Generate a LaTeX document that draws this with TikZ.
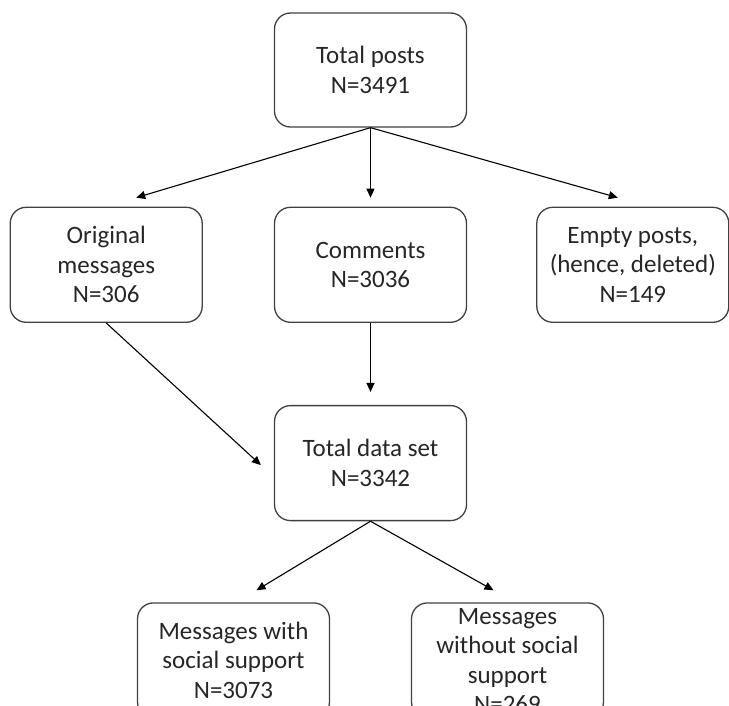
\documentclass[tikz,border=0pt]{standalone}
\usepackage{fontspec}
\setmainfont{Carlito}
\usepackage{xcolor}
\usepackage{tikz}
\usetikzlibrary{arrows.meta, positioning}
\definecolor{boxgrey}{RGB}{64, 64, 64}
\definecolor{textgrey}{RGB}{38, 38, 38}

\begin{document}
\begin{tikzpicture}[
    x=1pt, y=-1pt,
    stage/.style={draw=boxgrey, line width=1.3pt, rounded corners=16pt,
                  minimum width=192pt, minimum height=115pt, align=center,
                  text=textgrey, font=\fontsize{25}{29.5}\selectfont},
    flow/.style={-{Triangle[length=9pt, width=8pt]}, line width=1.1pt, black}
]
    \useasboundingbox (0,0) rectangle (729,706);

    \node[stage, minimum height=114pt] (total) at (370.5,70) {Total posts\\N=3491};
    \node[stage, below=79pt of total] (comments) {Comments\\N=3036};
    \node[stage, left=71pt of comments] (original) {Original\\messages\\N=306};
    \node[stage, right=69pt of comments] (empty) {Empty posts,\\(hence, deleted)\\N=149};
    \node[stage, below=82pt of comments] (dataset) {Total data set\\N=3342};
    \node[stage, below=81pt of dataset, xshift=-137pt] (withsup) {Messages with\\social support\\N=3073};
    \node[stage, inner ysep=0pt, below=81pt of dataset, xshift=137pt] (nosup) {Messages\\without social\\support\\N=269};

    % first split
    \draw[flow] (total.south) -- ([xshift=30pt, yshift=9pt]original.north);
    \draw[flow] (total.south) -- ([yshift=9pt]comments.north);
    \draw[flow] (total.south) -- ([xshift=-15pt, yshift=9pt]empty.north);

    % merge into data set
    \draw[flow] (original.south) -- ([xshift=-13pt, yshift=-2pt]dataset.west);
    \draw[flow] (comments.south) -- ([yshift=13pt]dataset.north);

    % coding result
    \draw[flow] (dataset.south) -- ([xshift=23pt, yshift=12pt]withsup.north);
    \draw[flow] (dataset.south) -- ([xshift=-14pt, yshift=12pt]nosup.north);
\end{tikzpicture}
\end{document}
